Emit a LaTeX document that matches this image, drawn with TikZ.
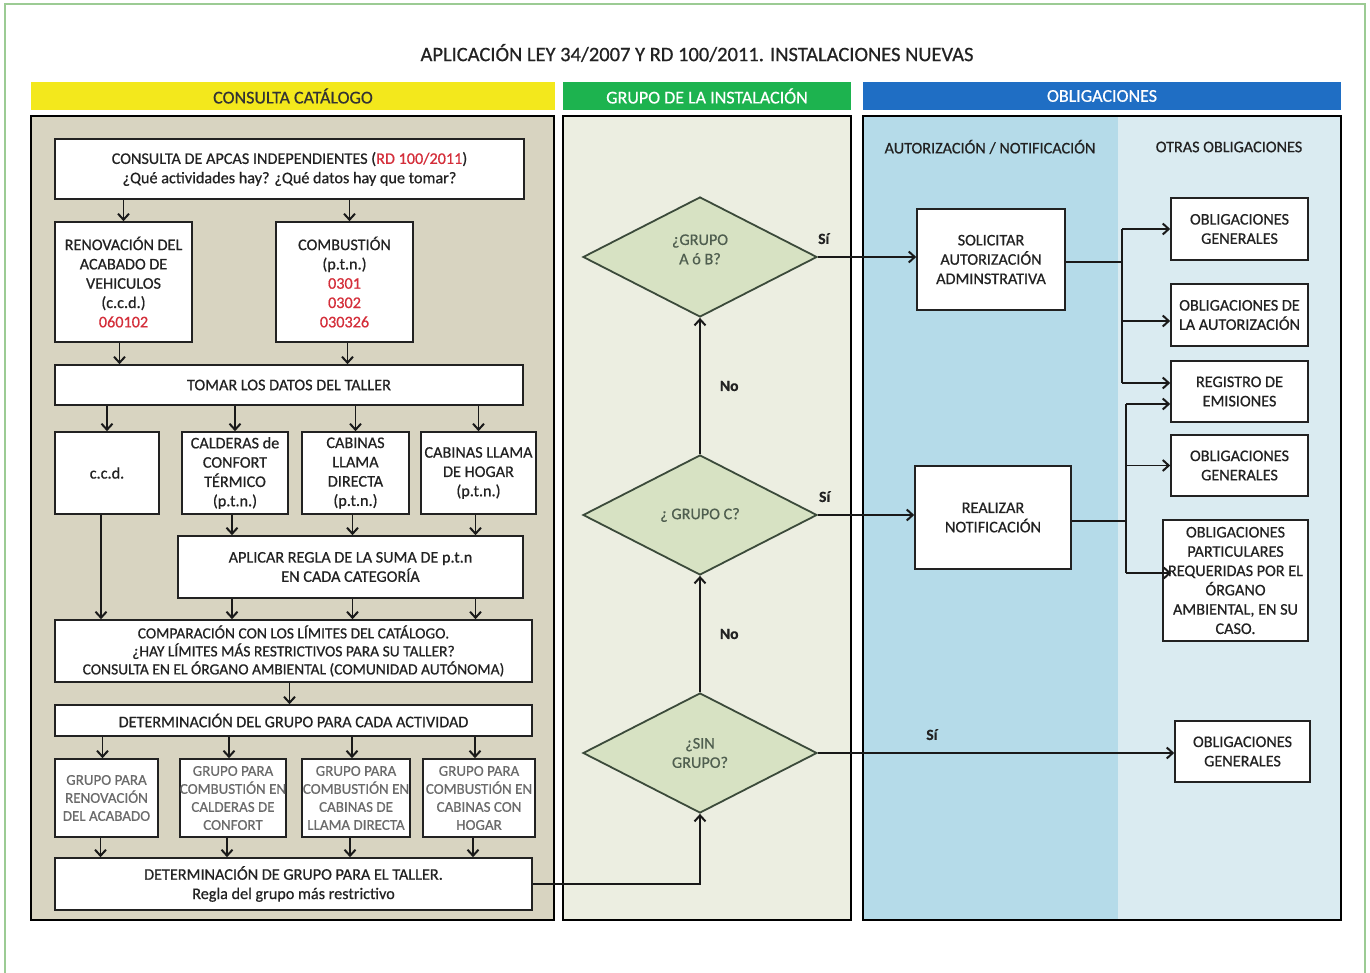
\documentclass[tikz,border=0pt]{standalone}
\usepackage{fontspec}
\setmainfont[FakeBold=0.6]{Carlito}
\usetikzlibrary{arrows.meta,shapes.geometric}
\definecolor{frameg}{HTML}{9CCB94}
\definecolor{ybar}{HTML}{F3E81C}
\definecolor{gbar}{HTML}{1DB34F}
\definecolor{bbar}{HTML}{1F6EC4}
\definecolor{tanbg}{HTML}{D8D4C1}
\definecolor{midbg}{HTML}{ECEEE1}
\definecolor{blueA}{HTML}{B5DBE9}
\definecolor{blueB}{HTML}{DAEBF1}
\definecolor{dia}{HTML}{D7E2C3}
\definecolor{diaedge}{HTML}{3B4A3A}
\definecolor{diatxt}{HTML}{4F5E4F}
\definecolor{codered}{HTML}{D42E3A}
\definecolor{txt}{HTML}{222222}
\newcommand{\bodyfs}{\fontsize{16.2}{19.3}\selectfont}
\newcommand{\rd}[1]{\textcolor{codered}{#1}}
\newcommand{\bx}[7][]{%
  \pgfmathsetmacro{\bw}{#5-#3}\pgfmathsetmacro{\bh}{#6-#4}%
  \node[box,#1,minimum width=\bw pt,minimum height=\bh pt] (#2) at ({(#3+#5)/2},{(#4+#6)/2}) {#7};}
\tikzset{
  box/.style={draw=txt, line width=1.6pt, fill=white, inner sep=0pt, align=center, font=\bodyfs, text=txt},
  bar/.style={draw=none, font=\fontsize{18}{20}\selectfont},
  panel/.style={draw=black, line width=2.6pt},
  arr/.style={-{Straight Barb[length=6pt,width=11pt,line width=2pt]}, line width=1.9pt, draw=black!90},
  ln/.style={line width=1.9pt, draw=black!90},
  dmd/.style={diamond, draw=diaedge, line width=1.8pt, fill=dia, inner sep=0pt, align=center,
    minimum width=234pt, minimum height=120pt, font=\bodyfs, text=diatxt},
  lbl/.style={font=\fontsize{15.5}{18}\selectfont\bfseries, text=txt, inner sep=0pt},
  grp/.style={text=black!58, font=\fontsize{15}{18}\selectfont}
}
\begin{document}
\begin{tikzpicture}[x=1pt,y=-1pt]
\useasboundingbox (0,0) rectangle (1370,973);
\fill[white] (0,0) rectangle (1370,973);
\draw[frameg, line width=1.2pt] (5,973) -- (5,4) -- (1365,4) -- (1365,973);
\node[font=\fontsize{20.5}{24}\selectfont, text=txt] (title) at (697,53) {APLICACIÓN LEY 34/2007 Y RD 100/2011. INSTALACIONES NUEVAS};
% header bars
\bx[bar, fill=ybar, text=black!80]{hcat}{31}{82}{555}{110}{CONSULTA CATÁLOGO}
\bx[bar, fill=gbar, text=white]{hgrp}{563}{82}{851}{110}{GRUPO DE LA INSTALACIÓN}
\bx[bar, fill=bbar, text=white]{hobl}{863}{82}{1341}{110}{OBLIGACIONES}
% panels
\bx[panel, fill=tanbg]{pcat}{31}{116}{554}{920}{}
\bx[panel, fill=midbg]{pgrp}{563}{116}{851}{920}{}
\fill[blueA] (863,116) rectangle (1118,920);
\fill[blueB] (1118,116) rectangle (1341,920);
\bx[panel, fill=none]{pobl}{863}{116}{1341}{920}{}
\node[font=\bodyfs, text=txt] (sh1) at (990,147) {AUTORIZACIÓN / NOTIFICACIÓN};
\node[font=\bodyfs, text=txt] (sh2) at (1229,147) {OTRAS OBLIGACIONES};
% left column
\bx{b1}{55}{139}{524}{199}{CONSULTA DE APCAS INDEPENDIENTES (\rd{RD 100/2011})\\ ¿Qué actividades hay? ¿Qué datos hay que tomar?}
\bx{ren}{55}{222}{192}{342}{RENOVACIÓN DEL\\ ACABADO DE\\ VEHICULOS\\ (c.c.d.)\\ \rd{060102}}
\bx{comb}{276}{222}{413}{342}{COMBUSTIÓN\\ (p.t.n.)\\ \rd{0301}\\ \rd{0302}\\ \rd{030326}}
\bx{tomar}{55}{365}{523}{405}{TOMAR LOS DATOS DEL TALLER}
\bx{ccd}{55}{432}{159}{514}{c.c.d.}
\bx{cal}{182}{432}{288}{514}{CALDERAS de\\ CONFORT\\ TÉRMICO\\ (p.t.n.)}
\bx{cabd}{302}{432}{409}{514}{CABINAS\\ LLAMA\\ DIRECTA\\ (p.t.n.)}
\bx{cabh}{421}{432}{536}{514}{CABINAS LLAMA\\ DE HOGAR\\ (p.t.n.)}
\bx{apl}{178}{536}{523}{598}{APLICAR REGLA DE LA SUMA DE p.t.n\\ EN CADA CATEGORÍA}
\bx[font=\fontsize{15.5}{18}\selectfont]{comp}{55}{620}{532}{682}{COMPARACIÓN CON LOS LÍMITES DEL CATÁLOGO.\\ ¿HAY LÍMITES MÁS RESTRICTIVOS PARA SU TALLER?\\ CONSULTA EN EL ÓRGANO AMBIENTAL (COMUNIDAD AUTÓNOMA)}
\bx{det}{55}{705}{532}{736}{DETERMINACIÓN DEL GRUPO PARA CADA ACTIVIDAD}
\bx[grp]{g1}{55}{759}{158}{837}{GRUPO PARA\\ RENOVACIÓN\\ DEL ACABADO}
\bx[grp]{g2}{180}{759}{286}{837}{GRUPO PARA\\ COMBUSTIÓN EN\\ CALDERAS DE\\ CONFORT}
\bx[grp]{g3}{302}{759}{410}{837}{GRUPO PARA\\ COMBUSTIÓN EN\\ CABINAS DE\\ LLAMA DIRECTA}
\bx[grp]{g4}{423}{759}{535}{837}{GRUPO PARA\\ COMBUSTIÓN EN\\ CABINAS CON\\ HOGAR}
\bx{tall}{55}{858}{532}{910}{DETERMINACIÓN DE GRUPO PARA EL TALLER.\\ Regla del grupo más restrictivo}
% left arrows
\draw[arr] (ren.north |- b1.south) -- (ren.north);
\draw[arr] ([xshift=5pt]comb.north |- b1.south) -- ([xshift=5pt]comb.north);
\draw[arr] ([xshift=-4pt]ren.south) -- ([xshift=-4pt]ren.south |- tomar.north);
\draw[arr] ([xshift=3pt]comb.south) -- ([xshift=3pt]comb.south |- tomar.north);
\foreach \n in {ccd,cal,cabd,cabh} \draw[arr] (\n.north |- tomar.south) -- (\n.north);
\foreach \n in {cal,cabd,cabh} \draw[arr] ([xshift=-3pt]\n.south) -- ([xshift=-3pt]\n.south |- apl.north);
\foreach \n in {cal,cabd,cabh} \draw[arr] ([xshift=-3pt]\n.south |- apl.south) -- ([xshift=-3pt]\n.south |- comp.north);
\draw[arr] ([xshift=-6pt]ccd.south) -- ([xshift=-6pt]ccd.south |- comp.north);
\draw[arr] ([xshift=-4pt]comp.south) -- ([xshift=-4pt]comp.south |- det.north);
\foreach \n in {g1,g2,g3,g4} \draw[arr] ([xshift=-4pt]\n.north |- det.south) -- ([xshift=-4pt]\n.north);
\foreach \n in {g1,g2,g3,g4} \draw[arr] ([xshift=-6pt]\n.south) -- ([xshift=-6pt]\n.south |- tall.north);
% diamonds
\node[dmd] (d1) at (700,257) {¿GRUPO\\ A ó B?\vphantom{p}\\[-4pt]};
\node[dmd] (d2) at (700,515) {¿ GRUPO C?};
\node[dmd] (d3) at (700,753) {¿SIN\\ GRUPO?};
\draw[arr] (tall.east) -- (d3.south |- tall.east) -- (d3.south);
\draw[arr] (d3.north) -- node[lbl, right=19pt, pos=0.5] {No} (d2.south);
\draw[arr] (d2.north) -- node[lbl, right=19pt, pos=0.5] {No} (d1.south);
% right boxes
\bx{sol}{917}{209}{1065}{310}{SOLICITAR\\ AUTORIZACIÓN\\ ADMINSTRATIVA}
\bx{real}{915}{466}{1071}{569}{REALIZAR\\ NOTIFICACIÓN}
\bx{og1}{1171}{198}{1308}{260}{OBLIGACIONES\\ GENERALES}
\bx{oda}{1171}{284}{1308}{346}{OBLIGACIONES DE\\ LA AUTORIZACIÓN}
\bx{reg}{1171}{361}{1308}{422}{REGISTRO DE\\ EMISIONES}
\bx{og2}{1171}{435}{1308}{496}{OBLIGACIONES\\ GENERALES}
\bx{opr}{1163}{520}{1308}{641}{OBLIGACIONES\\ PARTICULARES\\ REQUERIDAS POR EL\\ ÓRGANO\\ AMBIENTAL, EN SU\\ CASO.}
\bx{og3}{1175}{721}{1310}{782}{OBLIGACIONES\\ GENERALES}
% decisions to right
\draw[arr] (d1.east) -- node[lbl, pos=0.06, above=12pt] {Sí} (d1.east -| sol.west);
\draw[arr] (d2.east) -- node[lbl, pos=0.07, above=12pt] {Sí} (d2.east -| real.west);
\draw[arr] (d3.east) -- node[lbl, pos=0.32, above=12pt] {Sí} (d3.east -| og3.west);
% branches
\coordinate (ja) at (1122,262);
\coordinate (jb) at (1126,521);
\coordinate (odaA) at ([yshift=-6pt]oda.west);
\coordinate (regA) at ([yshift=8.5pt]reg.west);
\coordinate (regB) at ([yshift=-12.5pt]reg.west);
\coordinate (oprA) at ([yshift=7.5pt]opr.west);
\coordinate (oprT) at ([xshift=9pt,yshift=7.5pt]opr.west);
\draw[ln] (sol.east |- ja) -- (ja);
\draw[ln] (ja |- og1.west) -- (ja |- regA);
\draw[arr] (ja |- og1.west) -- (og1.west);
\draw[arr] (ja |- odaA) -- (odaA);
\draw[arr] (ja |- regA) -- (regA);
\draw[ln] (real.east |- jb) -- (jb);
\draw[ln] (jb |- regB) -- (jb |- oprA);
\draw[arr] (jb |- regB) -- (regB);
\draw[arr] (jb |- og2.west) -- (og2.west);
\draw[arr] (jb |- oprA) -- (oprT);
\end{tikzpicture}
\end{document}
